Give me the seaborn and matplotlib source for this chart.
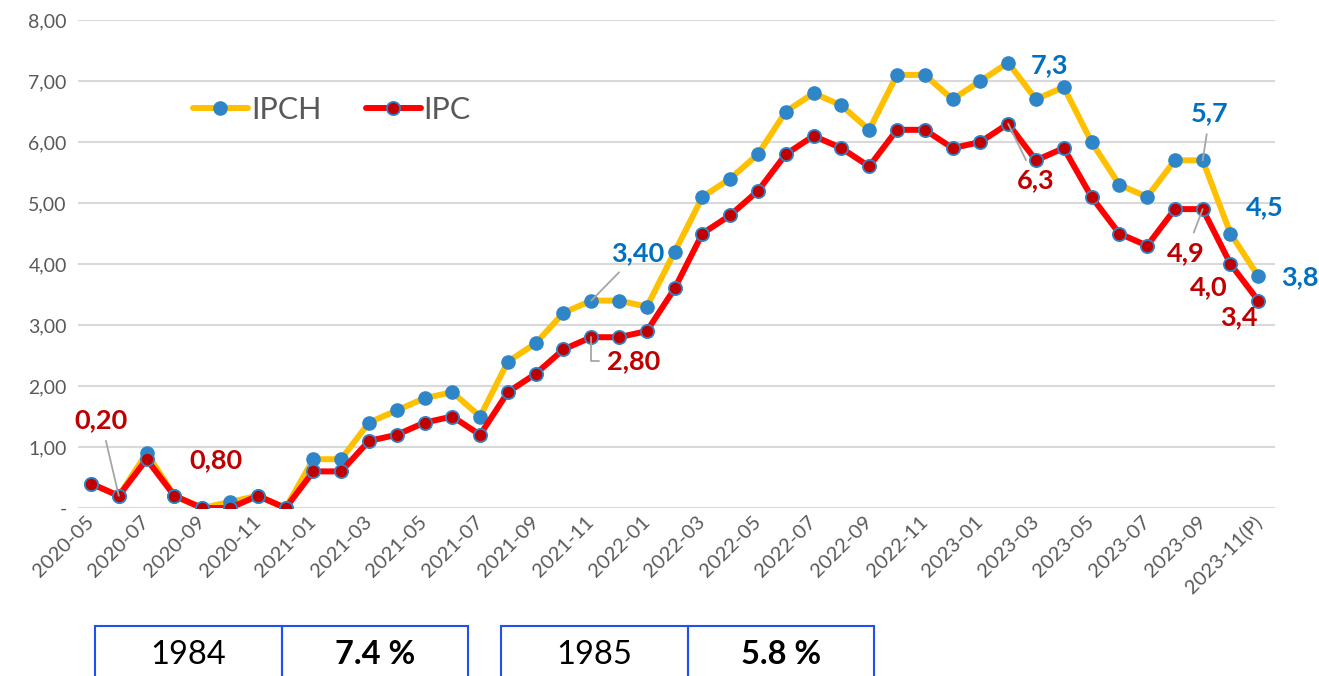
import numpy as np
import pandas as pd
import matplotlib
matplotlib.use("Agg")
import matplotlib.pyplot as plt
from matplotlib.patches import Rectangle
import seaborn as sns

# monthly inflation, year-on-year (%)
months = [
    "2020-05", "2020-06", "2020-07", "2020-08", "2020-09", "2020-10", "2020-11", "2020-12",
    "2021-01", "2021-02", "2021-03", "2021-04", "2021-05", "2021-06", "2021-07", "2021-08",
    "2021-09", "2021-10", "2021-11", "2021-12", "2022-01", "2022-02", "2022-03", "2022-04",
    "2022-05", "2022-06", "2022-07", "2022-08", "2022-09", "2022-10", "2022-11", "2022-12",
    "2023-01", "2023-02", "2023-03", "2023-04", "2023-05", "2023-06", "2023-07", "2023-08",
    "2023-09", "2023-10", "2023-11(P)",
]
ipch = [0.4, 0.2, 0.9, 0.2, 0.0, 0.1, 0.2, 0.0, 0.8, 0.8, 1.4, 1.6, 1.8, 1.9, 1.5, 2.4,
        2.7, 3.2, 3.4, 3.4, 3.3, 4.2, 5.1, 5.4, 5.8, 6.5, 6.8, 6.6, 6.2, 7.1, 7.1, 6.7,
        7.0, 7.3, 6.7, 6.9, 6.0, 5.3, 5.1, 5.7, 5.7, 4.5, 3.8]
ipc = [0.4, 0.2, 0.8, 0.2, 0.0, 0.0, 0.2, 0.0, 0.6, 0.6, 1.1, 1.2, 1.4, 1.5, 1.2, 1.9,
       2.2, 2.6, 2.8, 2.8, 2.9, 3.6, 4.5, 4.8, 5.2, 5.8, 6.1, 5.9, 5.6, 6.2, 6.2, 5.9,
       6.0, 6.3, 5.7, 5.9, 5.1, 4.5, 4.3, 4.9, 4.9, 4.0, 3.4]

y_ticks = [0, 1, 2, 3, 4, 5, 6, 7, 8]
y_ticklabels = ["-", "1,00", "2,00", "3,00", "4,00", "5,00", "6,00", "7,00", "8,00"]

# data labels: (series, month index, text)
label_series = ["IPC", "IPC", "IPCH", "IPC", "IPCH", "IPC", "IPCH", "IPCH", "IPC", "IPC", "IPCH", "IPC"]
label_idx = [1, 2, 18, 18, 33, 33, 40, 41, 40, 41, 42, 42]
label_text = ["0,20", "0,80", "3,40", "2,80", "7,3", "6,3", "5,7", "4,5", "4,9", "4,0", "3,8", "3,4"]

# reference table under the chart
table_years = ["1984", "1985"]
table_rates = ["7.4 %", "5.8 %"]

YELLOW = "#FFC000"
RED = "#FF0000"
BLUE_DOT = "#2E86C8"
DARK_RED = "#C00000"
LABEL_BLUE = "#0070C0"
GREY_TXT = "#595959"

sns.set_style("white")
plt.rcParams["font.family"] = ["Lato", "DejaVu Sans"]

df = pd.DataFrame({"pos": np.arange(len(months)), "IPCH": ipch, "IPC": ipc})

fig = plt.figure(figsize=(13.19, 6.76), dpi=100)
ax = fig.add_axes([0.0591, 0.2485, 0.9075, 0.7219])

sns.lineplot(data=df, x="pos", y="IPCH", ax=ax, color=YELLOW, linewidth=4.3,
             marker="o", markersize=9.5, markerfacecolor=BLUE_DOT,
             markeredgecolor=BLUE_DOT, markeredgewidth=1, label="IPCH")
sns.lineplot(data=df, x="pos", y="IPC", ax=ax, color=RED, linewidth=4.3,
             marker="o", markersize=9.5, markerfacecolor=DARK_RED,
             markeredgecolor=BLUE_DOT, markeredgewidth=1.3, label="IPC")

ax.set_xlim(-0.47, 42.6)
ax.set_ylim(0, 8)
ax.set_yticks(y_ticks)
ax.set_yticklabels(y_ticklabels, fontsize=14, color=GREY_TXT)
ax.set_xticks(df["pos"][::2])
ax.set_xticklabels(months[::2], rotation=45, ha="right", va="center",
                   rotation_mode="anchor", fontsize=14.5, color=GREY_TXT)
ax.tick_params(axis="both", length=0, pad=8)
ax.grid(axis="y", color="#D9D9D9", linewidth=1.5)
ax.set_axisbelow(True)
for s in ax.spines.values():
    s.set_visible(False)
ax.set_xlabel("")
ax.set_ylabel("")

ax.legend(loc="center left", bbox_to_anchor=(0.073, 0.816), ncol=2, frameon=False,
          fontsize=22, labelcolor=GREY_TXT, handlelength=1.8, handletextpad=0.1,
          columnspacing=1.45)

# label placement (data coords) and leader lines
label_pos = [(0.36, 1.44), (4.5, 0.79), (19.68, 4.18), (19.54, 2.41), (34.5, 7.26),
             (34.0, 5.37), (40.26, 6.47), (42.24, 4.93), (39.4, 4.18), (40.2, 3.62),
             (43.5, 3.79), (41.3, 3.13)]
leaders = [True, False, True, True, False, True, True, False, True, False, False, False]
for ser, i, txt, (tx, ty), lead in zip(label_series, label_idx, label_text, label_pos, leaders):
    yv = df[ser][i]
    col = LABEL_BLUE if ser == "IPCH" else DARK_RED
    if lead:
        style = "angle,angleA=0,angleB=90,rad=0" if txt == "2,80" else "arc3"
        ax.annotate(txt, xy=(i, yv), xytext=(tx, ty), ha="center", va="center",
                    fontsize=19.5, fontweight="bold", color=col, annotation_clip=False,
                    arrowprops=dict(arrowstyle="-", color="#A6A6A6", lw=1.3,
                                    shrinkA=4, shrinkB=0, connectionstyle=style))
    else:
        ax.text(tx, ty, txt, ha="center", va="center", fontsize=19.5,
                fontweight="bold", color=col, clip_on=False)

# boxes under the chart
box_left = [95, 501]
for left, year, rate in zip(box_left, table_years, table_rates):
    for k in range(2):
        x0 = (left + k * 186.5) / 1319
        fig.add_artist(Rectangle((x0, -0.05), 186.5 / 1319, 0.05 + 50 / 676,
                                 transform=fig.transFigure, fill=False,
                                 edgecolor="#2050F0", linewidth=1.5))
    fig.text((left + 93) / 1319, 1 - 655 / 676, year, ha="center", va="center",
             fontsize=23.5, color="black")
    fig.text((left + 280) / 1319, 1 - 655 / 676, rate, ha="center", va="center",
             fontsize=23.5, fontweight="bold", color="black")

fig.savefig("out.png", dpi=100)
